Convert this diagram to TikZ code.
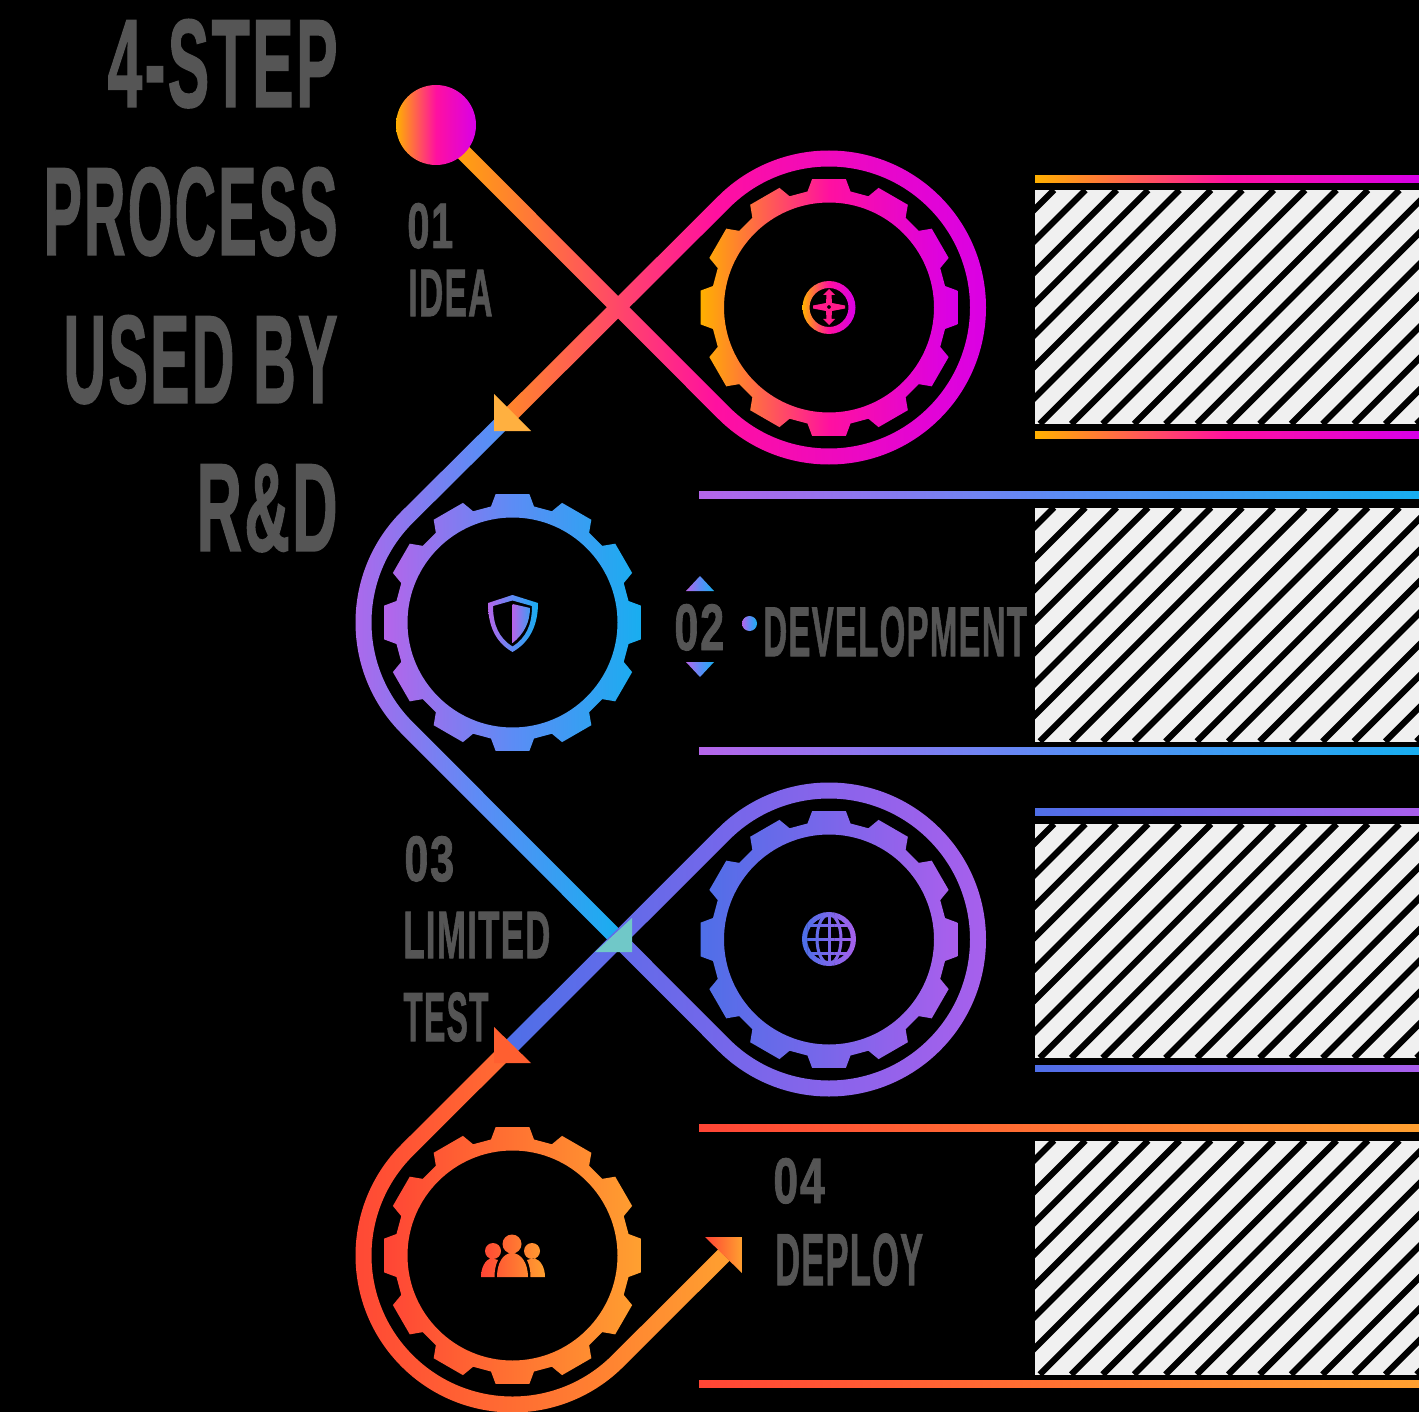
\documentclass[tikz,border=0pt]{standalone}
\usepackage{fontspec}
\setmainfont{Liberation Sans}[BoldFeatures={FakeBold=1.5,LetterSpace=4}]
\usetikzlibrary{calc}
\definecolor{ideaL}{HTML}{FFB000}
\definecolor{ideaM}{HTML}{FF10A0}
\definecolor{ideaR}{HTML}{D800E8}
\definecolor{devL}{HTML}{B565EA}
\definecolor{devM}{HTML}{5C8CF5}
\definecolor{devR}{HTML}{18AEF0}
\definecolor{testL}{HTML}{4F6FE8}
\definecolor{testM}{HTML}{7A66EA}
\definecolor{testR}{HTML}{AA5FEC}
\definecolor{depL}{HTML}{FF4535}
\definecolor{depM}{HTML}{FF7232}
\definecolor{depR}{HTML}{FFA030}
\definecolor{headA}{HTML}{FFB040}
\definecolor{headB}{HTML}{70C8C8}
\definecolor{headC}{HTML}{FF5F30}
\definecolor{tgray}{HTML}{555555}
\definecolor{paper}{HTML}{F0F0F0}
\newcommand{\narrowed}[3]{\scalebox{#1}[#2]{#3}}
\newcommand{\belt}[6]{\shade[#1] ($(#2)+(#5:8)$) -- ($(#3)+(#5:157)$)
  arc[start angle=#5, end angle=#6, radius=157] -- ($(#4)+(#6:8)$) -- ($(#4)+(#6:-8)$)
  -- ($(#3)+(#6:141)$) arc[start angle=#6, end angle=#5, radius=141] -- ($(#2)+(#5:-8)$) -- cycle;}
\newcommand{\gearwheel}[2]{\shade[#2, even odd rule, shift={(#1)}] (-10.5:118)
  \foreach \a in {0,30,...,330} {-- (\a-10.5:118) -- (\a-7.5:129.5) -- (\a+7.5:129.5) -- (\a+10.5:118)}
  -- cycle (0,0) circle[radius=105];}
\newcommand{\hatchpanel}[1]{\fill[paper] (1035,#1) rectangle (1419,#1+234);
  \begin{scope}
    \clip (1035,#1) rectangle (1419,#1+234);
    \foreach \k in {0,...,20} {\draw[hatch] (1054+31.4*\k,#1) -- (820+31.4*\k,#1+234);}
  \end{scope}}

\begin{document}
\begin{tikzpicture}[
  x=0.5pt, y=-0.5pt,
  idea/.style={left color=ideaL, right color=ideaR, middle color=ideaM},
  dev/.style={left color=devL, right color=devR, middle color=devM},
  trial/.style={left color=testL, right color=testR, middle color=testM},
  deploy/.style={left color=depL, right color=depR, middle color=depM},
  hatch/.style={draw=black, line width=3.1pt},
  lbl/.style={anchor=base west, inner sep=0pt, text=tgray,
    font=\fontsize{33.5}{40}\selectfont\bfseries},
  title/.style={anchor=north east, inner sep=0pt, align=right, text=tgray,
    font=\fontsize{60.7}{74}\selectfont\bfseries},
  globeline/.style={line width=1.5pt},
]
  \useasboundingbox (0,0) rectangle (1419,1412);
  \fill[black] (0,0) rectangle (1419,1412);

  % panels and rules
  \hatchpanel{190}
  \hatchpanel{507.5}
  \hatchpanel{824}
  \hatchpanel{1140.5}
  \shade[idea] (1035,176) rectangle (1419,183);
  \shade[idea] (1035,431) rectangle (1419,438);
  \shade[dev] (699,491) rectangle (1419,498);
  \shade[dev] (699,747) rectangle (1419,754);
  \shade[trial] (1035,808) rectangle (1419,815);
  \shade[trial] (1035,1065) rectangle (1419,1071);
  \shade[deploy] (699,1124) rectangle (1419,1131);
  \shade[deploy] (699,1380) rectangle (1419,1387);

  \coordinate (ball) at (436,125);
  \coordinate (gearA) at (829,307.5);
  \coordinate (gearB) at (512.5,622.5);
  \coordinate (gearC) at (829,939.5);
  \coordinate (gearD) at (512.5,1255.5);
  \coordinate (tipA) at (512,413);
  \coordinate (tipB) at (614,935);
  \coordinate (tipC) at (512.5,1045);
  \coordinate (tipD) at (724,1255);

  % belts
  \belt{dev}{tipA}{gearB}{tipB}{-135}{-225}
  \belt{idea}{ball}{gearA}{tipA}{135}{-135}
  \belt{deploy}{tipC}{gearD}{tipD}{-135}{-315}
  \belt{trial}{tipB}{gearC}{tipC}{135}{-135}
  \shade[idea] (ball) circle[radius=40];

  % gears
  \gearwheel{gearA}{idea}
  \gearwheel{gearB}{dev}
  \gearwheel{gearC}{trial}
  \gearwheel{gearD}{deploy}

  % arrow heads
  \fill[color=headA] (494,394) -- (531,431) -- (494,431) -- cycle;
  \fill[color=headB] (632,918) -- (632,952) -- (595,952) -- cycle;
  \fill[color=headC] (494,1027) -- (531,1063) -- (494,1063) -- cycle;
  \shade[deploy] (705,1237) -- (742,1237) -- (742,1273) -- cycle;
  \shade[dev] (700,576) -- (714,591) -- (686,591) -- cycle;
  \shade[dev] (686,662) -- (714,662) -- (700,677) -- cycle;
  \shade[dev] (749.5,623.5) circle[radius=7.5];

  % compass
  \shade[idea, even odd rule] (gearA) circle[radius=26.5] (gearA) circle[radius=19.5];
  \begin{scope}[shift={(829,307)}]
    \fill[color=ideaM!80!depL, even odd rule] (0,-18) -- (6,-12) -- (2.5,-12) -- (3,-4) -- (16,-1.5) -- (16,1.5) -- (3,4)
      -- (2.5,12) -- (6,12) -- (0,18) -- (-6,12) -- (-2.5,12) -- (-3,4) -- (-16,1.5) -- (-16,-1.5) -- (-3,-4)
      -- (-2.5,-12) -- (-6,-12) -- cycle (0,0) circle[radius=2];
  \end{scope}

  % shield
  \shade[dev, even odd rule] (512.5,595) -- (538,603) .. controls (538,625) and (530,642) .. (512.5,652)
    .. controls (495,642) and (488,625) .. (488,603) -- cycle
    (512.5,600.5) -- (493,606) .. controls (493,625) and (499,638) .. (512.5,646.5)
    .. controls (526,638) and (532,625) .. (532,606) -- cycle;
  \shade[left color=devL, right color=devM!60!devR] (512.5,604) -- (530,608) .. controls (530,622) and (524,634) .. (512.5,643) -- cycle;

  % globe
  \foreach \s in {0,10,...,90} {
    \begin{scope}
      \clip (802+0.54*\s,905) rectangle (802+0.54*\s+5.6,975);
      \draw[color=testR!\s!testL, line width=2.5pt] (829,939) circle[radius=24.5];
      \draw[color=testR!\s!testL, globeline] (829,939) ellipse[x radius=12, y radius=24.5];
      \draw[color=testR!\s!testL, globeline] (829,914) -- (829,964) (804,939) -- (854,939)
        (808,925) -- (850,925) (808,953) -- (850,953);
    \end{scope}
  }

  % people
  \shade[deploy] (493,1251) circle[radius=8] (532,1251) circle[radius=8] (512,1244) circle[radius=9.5]
    (481,1277) .. controls (481,1268) and (485,1260) .. (491,1258) -- (498,1260) .. controls (495,1266) and (494.5,1272) .. (494.5,1277) -- cycle
    (497,1277) .. controls (497,1263) and (503,1253) .. (512,1253) .. controls (521,1253) and (528,1263) .. (528,1277) -- cycle
    (545,1277) .. controls (545,1268) and (541,1260) .. (534,1258) -- (527,1260) .. controls (530,1266) and (530.5,1272) .. (530.5,1277) -- cycle;

  % labels
  \node[title] (heading) at (338,19) {\narrowed{.512}{1.03}{4-STEP}\\ \narrowed{.472}{1.03}{PROCESS}\\ \narrowed{.486}{1.03}{USED BY}\\ \narrowed{.517}{1.03}{R\&D}};
  \node[lbl] (numone) at (407,248) {\narrowed{.595}{.96}{01}};
  \node[lbl] (ideatext) at (408,316) {\narrowed{.50}{1}{IDEA}};
  \node[lbl] (numtwo) at (674,650) {\narrowed{.645}{.98}{02}};
  \node[lbl] (devtext) at (763,656) {\narrowed{.491}{1.05}{DEVELOPMENT}};
  \node[lbl] (numthree) at (404,881) {\narrowed{.645}{.96}{03}};
  \node[lbl] (limitedtext) at (403,958) {\narrowed{.517}{1}{LIMITED}};
  \node[lbl] (testtext) at (403,1041) {\narrowed{.475}{1.04}{TEST}};
  \node[lbl] (numfour) at (773,1203) {\narrowed{.665}{.96}{04}};
  \node[lbl] (deploytext) at (775,1285) {\narrowed{.511}{1.1}{DEPLOY}};
\end{tikzpicture}
\end{document}
